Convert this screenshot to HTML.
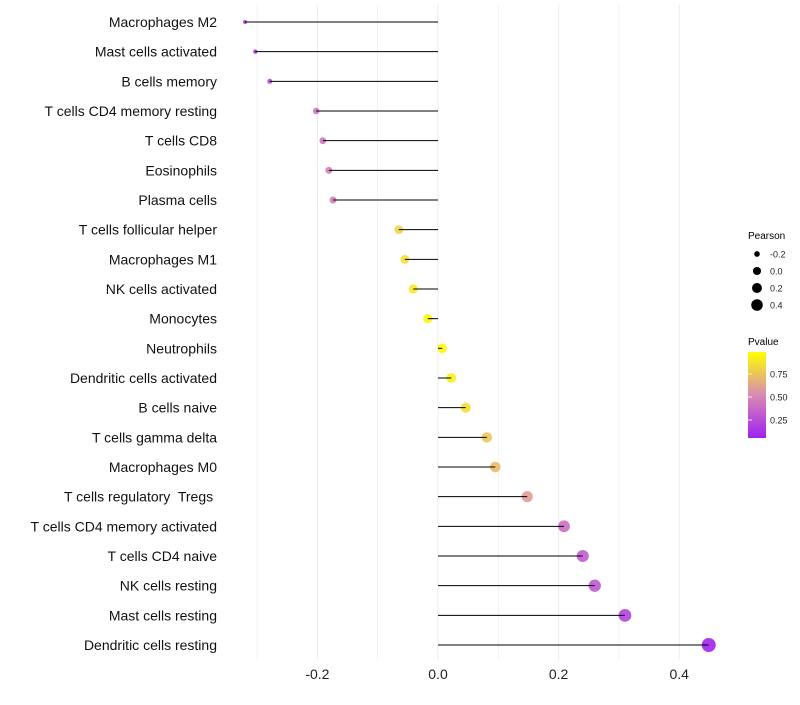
<!DOCTYPE html>
<html><head><meta charset="utf-8"><style>
body{margin:0;background:#fff;font-family:"Liberation Sans",sans-serif}
svg text{font-family:"Liberation Sans",sans-serif;white-space:pre}
</style></head><body>
<svg id="chart" width="800" height="700">
<defs><linearGradient id="pg" x1="0" y1="1" x2="0" y2="0">
<stop offset="0" stop-color="#A020F0"/><stop offset="0.5" stop-color="#D98AB4"/><stop offset="1" stop-color="#FFFF00"/></linearGradient></defs>
<g id="grid"></g>
<g id="marks"></g>
<g id="ylabels"></g>
<g id="xlabels"></g>
<g>
<text x="748" y="239" font-size="10">Pearson</text>
<g id="sizeleg"></g></g>
<g>
<text x="748" y="345" font-size="10">Pvalue</text>
<rect x="748" y="352" width="18" height="86" fill="url(#pg)"/>
<g id="colleg"></g></g>
</svg>
<script>
const categories=["Macrophages M2","Mast cells activated","B cells memory","T cells CD4 memory resting","T cells CD8","Eosinophils","Plasma cells","T cells follicular helper","Macrophages M1","NK cells activated","Monocytes","Neutrophils","Dendritic cells activated","B cells naive","T cells gamma delta","Macrophages M0","T cells regulatory  Tregs ","T cells CD4 memory activated","T cells CD4 naive","NK cells resting","Mast cells resting","Dendritic cells resting"];
const pearson=[-0.320,-0.303,-0.279,-0.202,-0.191,-0.181,-0.174,-0.065,-0.055,-0.041,-0.017,0.007,0.022,0.046,0.081,0.095,0.148,0.209,0.240,0.260,0.310,0.449];
const pvalue=[0.15,0.17,0.25,0.44,0.45,0.47,0.47,0.82,0.86,0.9,0.95,0.97,0.93,0.86,0.76,0.72,0.6,0.4,0.32,0.3,0.2,0.06];
const xTicks=[-0.2,0.0,0.2,0.4];
const sizeTicks=[-0.2,0.0,0.2,0.4];
const colTicks=[0.25,0.5,0.75];
const NS="http://www.w3.org/2000/svg";
function X(v){return 438+v*603;}
function Y(i){return 22+i*29.667;}
function R(v){return Math.sqrt(Math.max(1,4+(v+0.32)*58.4));}
function CY(p){return 374+(0.75-p)*92;}
function lerp(a,b,t){return a.map((x,i)=>Math.round(x+(b[i]-x)*t));}
function col(p){const lo=[160,32,240],mid=[217,138,180],hi=[255,255,0];
 let t=Math.min(1,Math.max(0,(p-0.05)/0.94));
 const c=t<0.5?lerp(lo,mid,t*2):lerp(mid,hi,(t-0.5)*2);return `rgb(${c})`;}
function el(tag,attrs,parent){const e=document.createElementNS(NS,tag);for(const k in attrs)e.setAttribute(k,attrs[k]);parent.appendChild(e);return e;}
const grid=document.getElementById('grid'),marks=document.getElementById('marks'),yl=document.getElementById('ylabels'),xl=document.getElementById('xlabels');
for(let v=-0.3;v<=0.45;v+=0.1){const g=el('line',{x1:X(v),x2:X(v),y1:5,y2:660,stroke:'#ebebeb','stroke-width':Math.abs(Math.round(v*10))%2===0?1:0.6},grid);

}
xTicks.forEach(v=>{const t=el('text',{x:X(v),y:679,'font-size':14,'text-anchor':'middle',fill:'#222'},xl);t.textContent=v.toFixed(1);

});
categories.forEach((c,i)=>{const y=Y(i);
const t=el('text',{x:217,y:y+5,'font-size':14,'text-anchor':'end',fill:'#111'},yl);t.textContent=c;


const p=el('circle',{cx:X(pearson[i]),cy:y,r:R(pearson[i]),fill:col(pvalue[i]),'fill-opacity':0.9},marks);


const l=el('line',{x1:X(0),x2:X(pearson[i]),y1:y,y2:y,stroke:'#000','stroke-width':1},marks);

});
const sl=document.getElementById('sizeleg');
sizeTicks.forEach((v,i)=>{const y=254+i*17;
const c=el('circle',{cx:757,cy:y,r:R(v)*0.85,fill:'#000'},sl);


const t=el('text',{x:770,y:y+3.5,'font-size':9,fill:'#222'},sl);t.textContent=v.toFixed(1);

});
const cl=document.getElementById('colleg');
colTicks.forEach(p=>{const y=CY(p);
const a=el('line',{x1:748,x2:752,y1:y,y2:y,stroke:'#fff','stroke-width':0.8},cl);


const t=el('text',{x:770,y:y+3.5,'font-size':9,fill:'#222'},cl);t.textContent=p.toFixed(2);

});
</script>
</body></html>
